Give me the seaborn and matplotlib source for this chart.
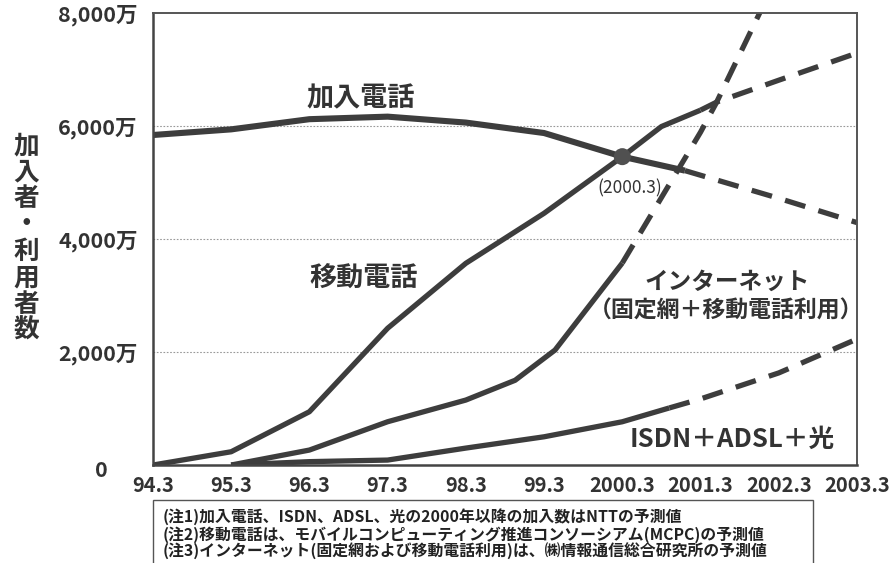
import matplotlib
matplotlib.use("Agg")
import matplotlib.pyplot as plt
import matplotlib.transforms as mtransforms
import seaborn as sns
from matplotlib.patches import Rectangle

# x is measured in years from 94.3 (0 = 94.3 ... 9 = 2003.3)
TICK_LABELS = ['94.3', '95.3', '96.3', '97.3', '98.3', '99.3',
               '2000.3', '2001.3', '2002.3', '2003.3']
Y_TICKS = [0, 2000, 4000, 6000, 8000]
Y_TICK_LABELS = ['0', '2,000万', '4,000万', '6,000万', '8,000万']

# 加入電話
fixed_x = [0, 1, 2, 3, 4, 5, 6, 6.8]
fixed_y = [5840, 5940, 6120, 6165, 6060, 5875, 5457, 5210]
fixed_fc_x = [6.8, 8, 9]
fixed_fc_y = [5210, 4720, 4290]

# 移動電話
mobile_x = [0, 1, 2, 3, 4, 5, 6, 6.5, 7]
mobile_y = [0, 235, 943, 2420, 3570, 4455, 5457, 5990, 6280]
mobile_fc_x = [7, 7.21, 8, 9]
mobile_fc_y = [6280, 6425, 6810, 7290]

# インターネット
net_x = [1, 2, 3, 4, 4.63, 5.14, 6]
net_y = [0, 265, 766, 1150, 1500, 2035, 3575]
net_fc_x = [6, 7, 7.2, 8]
net_fc_y = [3575, 5890, 6405, 8700]

# ISDN+ADSL+光
isdn_x = [1, 2, 3, 4, 5, 6, 6.6]
isdn_y = [0, 60, 88, 300, 500, 766, 1010]
isdn_fc_x = [6.6, 7, 8, 9]
isdn_fc_y = [1010, 1170, 1630, 2230]

# crossing point of fixed / mobile
cross_x = [6]
cross_y = [5457]

NOTES = [
    '(注1)加入電話、ISDN、ADSL、光の2000年以降の加入数はNTTの予測値',
    '(注2)移動電話は、モバイルコンピューティング推進コンソーシアム(MCPC)の予測値',
    '(注3)インターネット(固定網および移動電話利用)は、㈱情報通信総合研究所の予測値',
]

LINE = '#3d3d3d'
TXT = '#333333'
DASH = (0, (4, 2.6))
JP = ['Noto Sans CJK JP', 'DejaVu Sans']
W = 'bold'

sns.set_style('white')
plt.rcParams['font.family'] = JP

fig = plt.figure(figsize=(8.89, 5.63), dpi=100)
ax = fig.add_axes([0.172, 0.174, 0.792, 0.803])

segments = [
    (fixed_x, fixed_y, '-', 4.4),
    (fixed_fc_x, fixed_fc_y, DASH, 3.8),
    (mobile_x, mobile_y, '-', 3.8),
    (mobile_fc_x, mobile_fc_y, DASH, 3.8),
    (net_x, net_y, '-', 3.8),
    (net_fc_x, net_fc_y, DASH, 3.8),
    (isdn_x, isdn_y, '-', 3.8),
    (isdn_fc_x, isdn_fc_y, DASH, 3.8),
]
for xs, ys, ls, lw in segments:
    sns.lineplot(x=xs, y=ys, ax=ax, color=LINE, linewidth=lw,
                 linestyle=ls, sort=False, estimator=None,
                 solid_capstyle='butt', dash_capstyle='butt')

sns.scatterplot(x=cross_x, y=cross_y, ax=ax, s=150, color='#505050',
                edgecolor='none', zorder=5)

ax.set_xlim(0, 9)
ax.set_ylim(0, 8000)
ax.set_xticks(range(len(TICK_LABELS)))
ax.set_xticklabels(TICK_LABELS)
ax.set_yticks(Y_TICKS)
ax.set_yticklabels(Y_TICK_LABELS)

for yv in Y_TICKS[1:-1]:
    ax.axhline(yv, color='#999999', linewidth=0.8, linestyle=(0, (1.5, 1.5)),
               zorder=0)

for side in ['left', 'bottom']:
    ax.spines[side].set_color('#444444')
    ax.spines[side].set_linewidth(1.8)
for side in ['top', 'right']:
    ax.spines[side].set_color('#555555')
    ax.spines[side].set_linewidth(1.4)

ax.tick_params(axis='both', direction='in', length=6, width=1.0,
               color='#555555')
ax.tick_params(axis='x', pad=7, labelsize=14.5, labelcolor=TXT)
ax.tick_params(axis='y', pad=11, labelsize=15.5, labelcolor=TXT)
for lab in ax.get_xticklabels() + ax.get_yticklabels():
    lab.set_fontweight(W)
# the "0" label sits further left than the others
zero = ax.get_yticklabels()[0]
zero.set_transform(zero.get_transform() + mtransforms.ScaledTranslation(
    -30 / 100, -3 / 100, fig.dpi_scale_trans))
ax.set_xlabel('')
ax.set_ylabel('')

# series labels
ax.text(2.66, 6490, '加入電話', ha='center', va='center', fontsize=19.5,
        color=TXT, fontweight=W)
ax.text(2.70, 3290, '移動電話', ha='center', va='center', fontsize=19.5,
        color=TXT, fontweight=W)
ax.text(7.34, 3240, 'インターネット', ha='center', va='center', fontsize=17,
        color=TXT, fontweight=W)
ax.text(7.33, 2725, '（固定網＋移動電話利用）', ha='center', va='center',
        fontsize=16.5, color=TXT, fontweight=W)
ax.text(7.40, 460, 'ISDN＋ADSL＋光', ha='center', va='center', fontsize=18.5,
        color=TXT, fontweight=W)
ax.text(6.10, 4900, '(2000.3)', ha='center', va='center', fontsize=12.5,
        color=TXT)

# vertical axis title
fig.text(0.030, 0.577, '\n'.join('加入者・利用者数'), ha='center', va='center',
         fontsize=18.5, color=TXT, fontweight=W, linespacing=0.97)

# notes box at the bottom
fig.patches.append(Rectangle((0.172, -0.05), 0.7425, 0.162,
                             transform=fig.transFigure, fill=False,
                             edgecolor='#555555', linewidth=1.0))
for i, note in enumerate(NOTES):
    fig.text(0.183, 0.0817 - i * 0.031, note, ha='left', va='center',
             fontsize=11.4, color='#222222', fontweight=W)

fig.savefig('out.png', dpi=100)
